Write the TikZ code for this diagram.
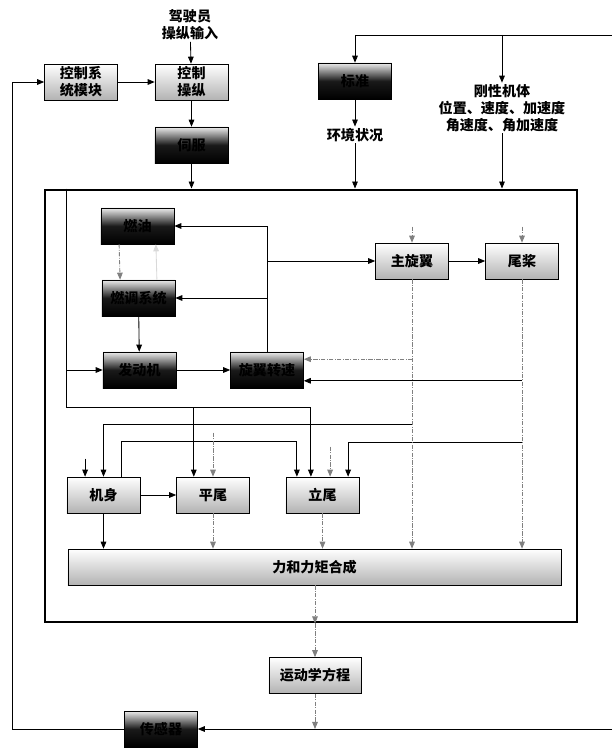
\documentclass[tikz,border=0pt]{standalone}
\usepackage{fontspec}
\setmainfont{Noto Sans CJK SC}
\usepackage{tikz}
\usetikzlibrary{arrows.meta, positioning, calc}

\begin{document}
\begin{tikzpicture}[
    x=0.025cm, y=-0.025cm,
    box/.style={rectangle, draw, minimum width=1.825cm, minimum height=0.9cm, align=center, font=\bfseries, inner sep=1pt},
    lightbox/.style={box, top color=white, bottom color=gray!60},
    darkbox/.style={box, top color=gray!15, bottom color=black, middle color=black!90},
    txt/.style={align=center, font=\bfseries, inner sep=1pt},
    arrow/.style={-{Triangle[length=5pt,width=4pt]}, line width=0.6pt},
    dotarrow/.style={arrow, densely dash dot, draw=gray},
    dotline/.style={line width=0.6pt, densely dash dot, draw=gray}
]
\useasboundingbox (0,0) rectangle (612,748);

% Eingaben oben
\node[txt] (driver) at (190,25) {驾驶员\\操纵输入};
\node[lightbox] (ctrlsys) at (81,82) {控制系\\统模块};
\node[lightbox] (ctrl) at (191.5,82) {控制\\操纵};
\node[darkbox] (servo) at (191.5,145) {伺服};
\node[darkbox] (atmos) at (355,81) {标准};
\node[txt] (envtext) at (355,135) {环境状况};
\node[txt] (rigid) at (502,108) {刚性机体\\位置、速度、加速度\\角速度、角加速度};

% Rahmen des Modells
\node[draw, line width=2pt, minimum width=13.3cm, minimum height=10.8cm, inner sep=0pt] (frame) at (311,406) {};

% Triebwerk und Rotoren
\node[darkbox] (fuel) at (137.5,226) {燃油};
\node[darkbox] (fuelreg) at (138.5,298) {燃调系统};
\node[darkbox] (engine) at (139.5,370) {发动机};
\node[darkbox] (rpm) at (267,370) {旋翼转速};
\node[lightbox] (mainrotor) at (412,261) {主旋翼};
\node[lightbox] (tailrotor) at (522,261) {尾桨};

% Rumpf und Leitwerk
\node[lightbox] (fuselage) at (103.5,495) {机身};
\node[lightbox] (htail) at (213,495) {平尾};
\node[lightbox] (vtail) at (322.5,495) {立尾};
\node[lightbox, minimum width=12.325cm] (forces) at (314.5,567) {力和力矩合成};

% Unten
\node[lightbox, minimum width=2.3cm] (kinem) at (315,675.5) {运动学方程};
\node[darkbox] (sensor) at (161,729) {传感器};

% Hilfspunkte
\coordinate (topL) at (355,35);
\coordinate (topR) at (612,35);
\coordinate (bus1) at (66,407);
\coordinate (bus2) at (0,424);
\coordinate (bus3) at (0,442);
\coordinate (fb) at (612,729);
\coordinate (r1) at ([yshift=0.27cm]rpm.east);
\coordinate (r2) at ([yshift=-0.27cm]rpm.east);

% Pfeile oben
\draw[arrow] (driver) -- (ctrl);
\draw[arrow] (ctrlsys) -- (ctrl);
\draw[arrow] (ctrl) -- (servo);
\draw[arrow] (servo) -- (servo |- frame.north);
\draw[line width=0.6pt] (topL) -- (topR);
\draw[arrow] (topL) -- (atmos);
\draw[arrow] (atmos) -- (envtext);
\draw[arrow] (envtext) -- (envtext |- frame.north);
\draw[arrow] (rigid |- topL) -- (rigid);
\draw[arrow] (rigid) -- (rigid |- frame.north);

% Pfeile Triebwerk
\draw[dotarrow] ([xshift=-0.46cm]fuel.south) -- ([xshift=-0.46cm]fuelreg.north);
\draw[arrow, draw=gray!30] ([xshift=0.46cm]fuelreg.north) -- ([xshift=0.46cm]fuel.south);
\draw[arrow] (fuelreg) -- (engine);
\draw[arrow] (engine) -- (rpm);
\draw[arrow] (engine.west -| bus1) -- (engine.west);
\draw[arrow] (rpm.north) |- (fuel.east);
\draw[arrow] (rpm.north |- fuelreg.east) -- (fuelreg.east);
\draw[arrow] (rpm.north |- mainrotor.west) -- (mainrotor.west);
\draw[arrow] (mainrotor) -- (tailrotor);
\draw[dotarrow] ([yshift=0.4cm]mainrotor.north) -- (mainrotor.north);
\draw[dotarrow] ([yshift=0.4cm]tailrotor.north) -- (tailrotor.north);
\draw[dotarrow] (r1 -| mainrotor) -- (r1);
\draw[arrow] (r2 -| tailrotor) -- (r2);

% Verteilung auf Rumpf und Leitwerk
\draw[arrow] (frame.north -| bus1) -- (bus1) -| ([xshift=-0.29cm]vtail.north);
\draw[arrow] ([xshift=-0.48cm]htail.north |- bus1) -- ([xshift=-0.48cm]htail.north);
\draw[arrow] (mainrotor.south |- bus2) -| (fuselage.north);
\draw[arrow] ([xshift=0.46cm]fuselage.north) -- ++(0,-35) -| ([xshift=-0.64cm]vtail.north);
\draw[arrow] (tailrotor.south |- bus3) -| ([xshift=0.64cm]vtail.north);
\draw[dotarrow] ([yshift=1.1cm]htail.north) -- (htail.north);
\draw[dotarrow] ([xshift=0.19cm,yshift=0.75cm]vtail.north) -- ([xshift=0.19cm]vtail.north);
\draw[arrow] ([xshift=-0.46cm,yshift=0.45cm]fuselage.north) -- ([xshift=-0.46cm]fuselage.north);
\draw[arrow] (fuselage) -- (htail);

% Kraefte
\draw[arrow] (fuselage) -- (fuselage |- forces.north);
\draw[dotarrow] (htail) -- (htail |- forces.north);
\draw[dotarrow] (vtail) -- (vtail |- forces.north);
\draw[dotarrow] (mainrotor) -- (mainrotor |- forces.north);
\draw[dotarrow] (tailrotor) -- (tailrotor |- forces.north);

% Rueckfuehrung
\draw[dotarrow] (forces.south -| kinem) -- (frame.south -| kinem);
\draw[dotarrow] (frame.south -| kinem) -- (kinem.north);
\draw[dotarrow] (kinem.south) -- (kinem.south |- fb);
\draw[arrow] (fb) -- (sensor.east);
\draw[arrow] (sensor.west) -- ++(-112,0) |- (ctrlsys.west);

\end{tikzpicture}
\end{document}
